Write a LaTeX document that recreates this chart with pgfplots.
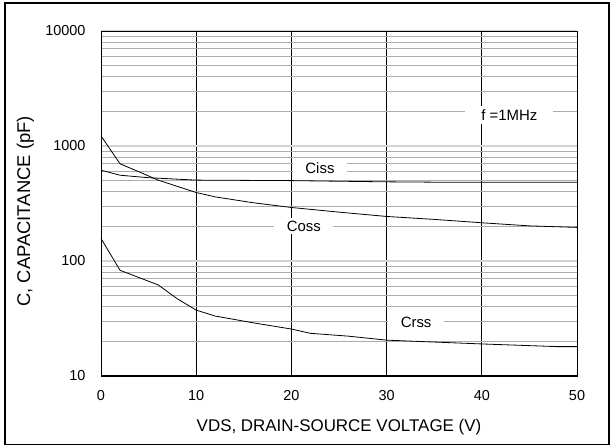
\documentclass[border=0pt]{standalone}
\usepackage{fontspec}
\setmainfont{Liberation Sans}
\usepackage{pgfplots}
\pgfplotsset{compat=1.18}

% capacitance vs drain-source voltage
\pgfplotstableread{
V   C
0   616
2   557
5   530
10  505
20  500
30  488
36  484
50  484
}\ciss
\pgfplotstableread{
V   C
0   1224
2   700
4   596
6   505
10  394
12  361
16  321
20  292
25  266
30  244
35  230
40  215
45  202
50  196
}\coss
\pgfplotstableread{
V   C
0   157
2   83
6   62
8   47
10  37.4
12  33.2
16  29.0
20  25.6
22  23.5
26  22.2
30  20.5
40  19.0
48  18.0
50  18.0
}\crss

\begin{document}
\begin{tikzpicture}
\begin{axis}[
    scale only axis,
    width=476bp, height=345bp,
    ymode=log,
    xmin=0, xmax=50,
    ymin=10, ymax=10000,
    xtick={0,10,...,50},
    ytick={10,100,1000,10000},
    yticklabels={10,100,1000,10000},
    major tick length=0pt, minor tick length=0pt,
    /pgf/number format/assume math mode=true,
    tick label style={font=\fontsize{14.5}{16}\selectfont},
    xticklabel style={yshift=-11bp},
    yticklabel style={xshift=-12bp},
    xmajorgrids,
    ymajorgrids, yminorgrids,
    x grid style={black, line width=0.7bp},
    major y grid style={gray!35, line width=1.4bp},
    minor y grid style={gray!65, line width=0.7bp},
    axis line style={black, line width=0.8bp},
    xlabel={VDS, DRAIN-SOURCE VOLTAGE (V)},
    ylabel={C, CAPACITANCE (pF)},
    xlabel style={font=\fontsize{17}{19}\selectfont,
        at={(axis description cs:0.5,-0.148)}, anchor=center},
    ylabel style={font=\fontsize{18.5}{20}\selectfont,
        at={(axis description cs:-0.159,0.477)}, anchor=center},
    clip=false,
]
\addplot[black, line width=0.8bp] table[x=V, y=C] {\ciss};
\addplot[black, line width=0.8bp] table[x=V, y=C] {\coss};
\addplot[black, line width=0.8bp] table[x=V, y=C] {\crss};

\tikzset{lbl/.style={fill=white, inner xsep=12.5bp, inner ysep=3bp,
    font=\fontsize{15}{17}\selectfont}}
\node[lbl] at (axis cs:23,644) {Ciss};
\node[lbl] at (axis cs:21.3,201) {Coss};
\node[lbl] at (axis cs:33.1,29.5) {Crss};
\node[lbl, inner xsep=16bp, inner ysep=4bp] at (axis cs:42.9,1862) {f =1MHz};

\draw[black, line width=2bp] (rel axis cs:0,0) -- (rel axis cs:1,0);
% outer frame and page margins
\draw[line width=1.5bp] ([xshift=-96bp,yshift=28bp]rel axis cs:0,1)
    rectangle ([xshift=32bp,yshift=-68.5bp]rel axis cs:1,0);
\path ([xshift=-101bp,yshift=31bp]rel axis cs:0,1)
    rectangle ([xshift=36bp,yshift=-71bp]rel axis cs:1,0);
\end{axis}
\end{tikzpicture}
\end{document}
